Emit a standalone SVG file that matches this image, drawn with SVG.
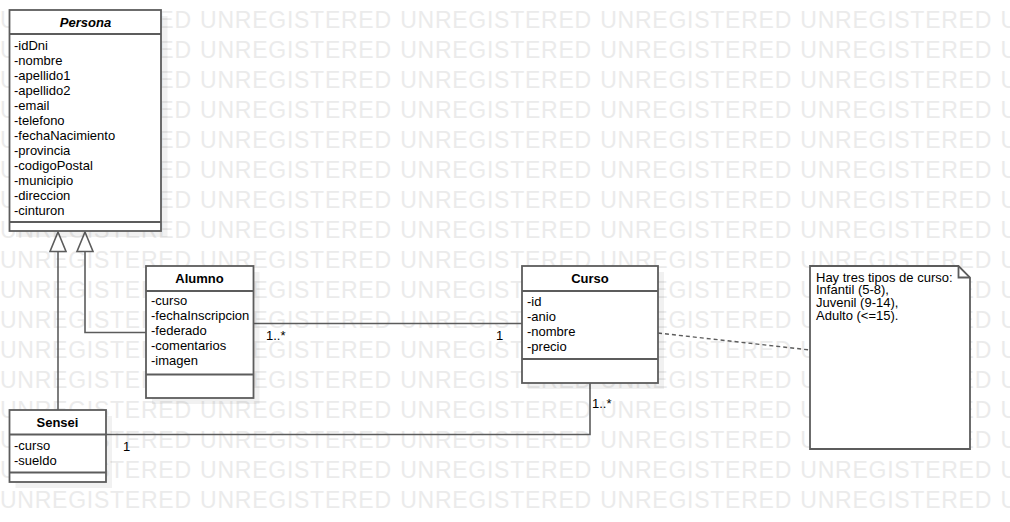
<svg xmlns="http://www.w3.org/2000/svg" width="1010" height="522" viewBox="0 0 1010 522">
<style>
.wm{font-family:"Liberation Sans",Arial,sans-serif;font-size:23px;letter-spacing:0.75px;word-spacing:1.2px;fill:#ebebeb}
.box{fill:#fff;stroke:#5c5c5c;stroke-width:1.8}
.sep{stroke:#5c5c5c;stroke-width:1.8;fill:none}
.shadow{fill:#000;fill-opacity:0.055}
.title{font-family:"Liberation Sans",Arial,sans-serif;font-size:13px;font-weight:bold;fill:#000;text-anchor:middle}
.attr{font-family:"Liberation Sans",Arial,sans-serif;font-size:13px;fill:#000}
.lbl{font-family:"Liberation Sans",Arial,sans-serif;font-size:13px;fill:#000}
.line{fill:none;stroke:#5c5c5c;stroke-width:1.6}
.tri{fill:#fff;stroke:#5c5c5c;stroke-width:1.6}
.dash{fill:none;stroke:#5c5c5c;stroke-width:1.4;stroke-dasharray:4 3}
</style>
<rect x="0" y="0" width="1010" height="522" fill="#fff"/>
<g id="watermark">
<text class="wm" x="0" y="28">UNREGISTERED UNREGISTERED UNREGISTERED UNREGISTERED UNREGISTERED U</text>
<text class="wm" x="0" y="58">UNREGISTERED UNREGISTERED UNREGISTERED UNREGISTERED UNREGISTERED U</text>
<text class="wm" x="0" y="88">UNREGISTERED UNREGISTERED UNREGISTERED UNREGISTERED UNREGISTERED U</text>
<text class="wm" x="0" y="118">UNREGISTERED UNREGISTERED UNREGISTERED UNREGISTERED UNREGISTERED U</text>
<text class="wm" x="0" y="148">UNREGISTERED UNREGISTERED UNREGISTERED UNREGISTERED UNREGISTERED U</text>
<text class="wm" x="0" y="178">UNREGISTERED UNREGISTERED UNREGISTERED UNREGISTERED UNREGISTERED U</text>
<text class="wm" x="0" y="208">UNREGISTERED UNREGISTERED UNREGISTERED UNREGISTERED UNREGISTERED U</text>
<text class="wm" x="0" y="238">UNREGISTERED UNREGISTERED UNREGISTERED UNREGISTERED UNREGISTERED U</text>
<text class="wm" x="0" y="268">UNREGISTERED UNREGISTERED UNREGISTERED UNREGISTERED UNREGISTERED U</text>
<text class="wm" x="0" y="298">UNREGISTERED UNREGISTERED UNREGISTERED UNREGISTERED UNREGISTERED U</text>
<text class="wm" x="0" y="328">UNREGISTERED UNREGISTERED UNREGISTERED UNREGISTERED UNREGISTERED U</text>
<text class="wm" x="0" y="358">UNREGISTERED UNREGISTERED UNREGISTERED UNREGISTERED UNREGISTERED U</text>
<text class="wm" x="0" y="388">UNREGISTERED UNREGISTERED UNREGISTERED UNREGISTERED UNREGISTERED U</text>
<text class="wm" x="0" y="418">UNREGISTERED UNREGISTERED UNREGISTERED UNREGISTERED UNREGISTERED U</text>
<text class="wm" x="0" y="448">UNREGISTERED UNREGISTERED UNREGISTERED UNREGISTERED UNREGISTERED U</text>
<text class="wm" x="0" y="478">UNREGISTERED UNREGISTERED UNREGISTERED UNREGISTERED UNREGISTERED U</text>
<text class="wm" x="0" y="508">UNREGISTERED UNREGISTERED UNREGISTERED UNREGISTERED UNREGISTERED U</text>
</g>
<g id="connectors">
<path class="line" d="M58,410 L58,251"/>
<path class="line" d="M146,332.5 L85,332.5 L85,251"/>
<polygon class="tri" points="58,232 50,251.5 66,251.5"/>
<polygon class="tri" points="85,232 77,251.5 93,251.5"/>
<path class="line" d="M253,323.5 L522,323.5"/>
<path class="line" d="M106,434.5 L590,434.5 L590,383"/>
<path class="dash" d="M658,333 L810,350"/>
<text class="lbl" x="266" y="339.5">1..*</text>
<text class="lbl" x="496" y="340">1</text>
<text class="lbl" x="123" y="451">1</text>
<text class="lbl" x="592" y="407.5">1..*</text>
</g>
<g id="persona">
<rect class="shadow" x="16" y="16" width="151.5" height="221"/>
<rect class="box" x="9.5" y="10" width="151.5" height="221"/>
<path class="sep" d="M9.5,34 H161 M9.5,222 H161"/>
<text class="title" x="85.5" y="26.5" font-style="italic">Persona</text>
<text class="attr" x="14" y="49.5">-idDni</text>
<text class="attr" x="14" y="64.5">-nombre</text>
<text class="attr" x="14" y="79.5">-apellido1</text>
<text class="attr" x="14" y="94.5">-apellido2</text>
<text class="attr" x="14" y="109.5">-email</text>
<text class="attr" x="14" y="124.5">-telefono</text>
<text class="attr" x="14" y="139.5">-fechaNacimiento</text>
<text class="attr" x="14" y="154.5">-provincia</text>
<text class="attr" x="14" y="169.5">-codigoPostal</text>
<text class="attr" x="14" y="184.5">-municipio</text>
<text class="attr" x="14" y="199.5">-direccion</text>
<text class="attr" x="14" y="214.5">-cinturon</text>
</g>
<g id="alumno">
<rect class="shadow" x="152" y="272" width="107.5" height="132"/>
<rect class="box" x="146" y="266" width="107.5" height="132"/>
<path class="sep" d="M146,291 H253.5 M146,374.5 H253.5"/>
<text class="title" x="199.5" y="283">Alumno</text>
<text class="attr" x="151" y="305">-curso</text>
<text class="attr" x="151" y="320">-fechaInscripcion</text>
<text class="attr" x="151" y="335">-federado</text>
<text class="attr" x="151" y="350">-comentarios</text>
<text class="attr" x="151" y="365">-imagen</text>
</g>
<g id="sensei">
<rect class="shadow" x="15.5" y="416" width="96.5" height="72"/>
<rect class="box" x="9.5" y="410" width="96.5" height="72"/>
<path class="sep" d="M9.5,434.5 H106 M9.5,472.5 H106"/>
<text class="title" x="57.5" y="426.5">Sensei</text>
<text class="attr" x="14" y="449.5">-curso</text>
<text class="attr" x="14" y="464.5">-sueldo</text>
</g>
<g id="curso">
<rect class="shadow" x="528" y="272" width="136" height="117"/>
<rect class="box" x="522" y="266" width="136" height="117"/>
<path class="sep" d="M522,291 H658 M522,359 H658"/>
<text class="title" x="590" y="282.7">Curso</text>
<text class="attr" x="527" y="305.5">-id</text>
<text class="attr" x="527" y="320.5">-anio</text>
<text class="attr" x="527" y="335.5">-nombre</text>
<text class="attr" x="527" y="350.5">-precio</text>
</g>
<g id="nota">
<path class="box" d="M810,266 L958.5,266 L970,277.5 L970,449 L810,449 Z"/>
<path class="sep" d="M958.5,266 L958.5,277.5 L970,277.5"/>
<text class="attr" x="816" y="281.5">Hay tres tipos de curso:</text>
<text class="attr" x="816" y="294.3">Infantil (5-8),</text>
<text class="attr" x="816" y="307.1">Juvenil (9-14),</text>
<text class="attr" x="816" y="319.9">Adulto (&lt;=15).</text>
</g>
</svg>
